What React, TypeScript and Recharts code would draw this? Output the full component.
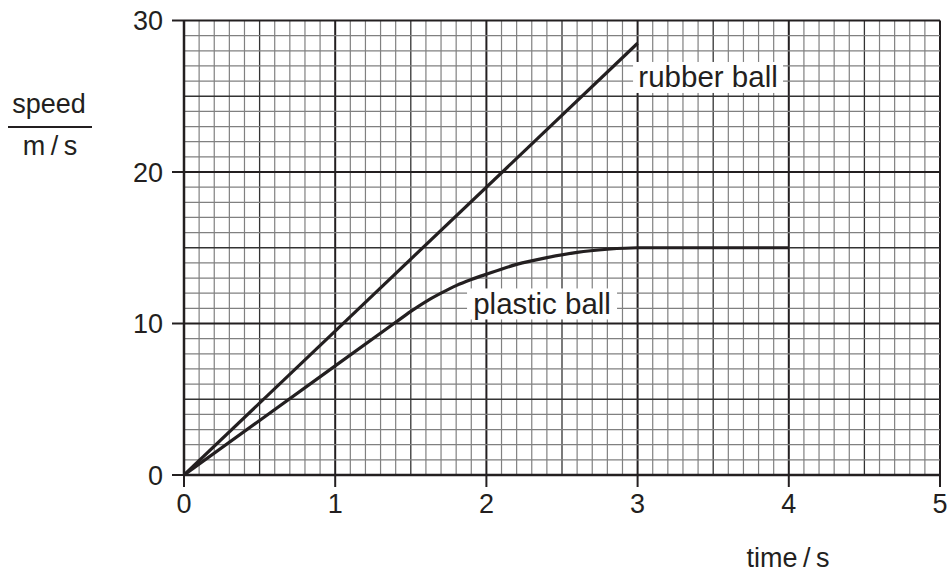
import React from "react";
import {
  ComposedChart,
  Line,
  XAxis,
  YAxis,
  ReferenceLine,
  ReferenceDot,
} from "recharts";

const timeTicks = [0, 1, 2, 3, 4, 5];
const speedTicks = [0, 10, 20, 30];

const rubberTime = [0, 3];
const rubberSpeed = [0, 28.5];

const plasticTime = [0, 0.5, 1, 1.4, 1.5, 1.6, 1.7, 1.8, 1.9, 2.0, 2.2, 2.4, 2.6, 2.8, 3, 4];
const plasticSpeed = [0, 3.6, 7.2, 10.08, 10.8, 11.45, 12.0, 12.5, 12.9, 13.25, 13.9, 14.35, 14.7, 14.9, 15, 15];

const labelText = ["rubber ball", "plastic ball"];
const labelTime = [3.466, 2.368];
const labelSpeed = [26.24, 11.29];

const rubberData = rubberTime.map((t, i) => ({ t, v: rubberSpeed[i] }));
const plasticData = plasticTime.map((t, i) => ({ t, v: plasticSpeed[i] }));

const FONT = "'Liberation Sans', Arial, Helvetica, sans-serif";
const INK = "#231f20";

const range = (start: number, end: number, step: number) => {
  const out: number[] = [];
  const n = Math.round((end - start) / step);
  for (let i = 0; i <= n; i++) out.push(+(start + i * step).toFixed(4));
  return out;
};

const gridX = range(0, 5, 0.1);
const gridY = range(0, 30, 1);

const gridStyle = (v: number, majorStep: number, halfStep: number) => {
  const isMajor = Math.abs(v / majorStep - Math.round(v / majorStep)) < 1e-6;
  if (isMajor) return { stroke: INK, strokeWidth: 2 };
  const isHalf = Math.abs(v / halfStep - Math.round(v / halfStep)) < 1e-6;
  if (isHalf) return { stroke: "#333", strokeWidth: 1.3 };
  return { stroke: "#808080", strokeWidth: 1.2 };
};

const LabelBox = (props: any) => {
  const { cx, cy, text } = props;
  const w = 150;
  const h = 31;
  return (
    <g>
      <rect x={cx - w / 2} y={cy - h / 2} width={w} height={h} fill="#fff" />
      <text
        x={cx}
        y={cy}
        dy={10}
        textAnchor="middle"
        fontSize={29.5}
        fontFamily={FONT}
        fill={INK}
      >
        {text}
      </text>
    </g>
  );
};

const TimeTick = (props: any) => {
  const { x, y, payload } = props;
  return (
    <text
      x={x}
      y={y}
      dy={19}
      textAnchor="middle"
      fontSize={27}
      fontFamily={FONT}
      fill={INK}
    >
      {payload.value}
    </text>
  );
};

export default function App() {
  return (
    <div
      style={{
        position: "relative",
        width: 949,
        height: 575,
        background: "#fff",
        overflow: "hidden",
      }}
    >
      <style>{"html,body{margin:0;padding:0;overflow:hidden;}"}</style>
      <ComposedChart
        width={949}
        height={575}
        margin={{ top: 20.5, right: 9, left: 124, bottom: 60 }}
      >
        <XAxis
          type="number"
          dataKey="t"
          domain={[0, 5]}
          ticks={timeTicks}
          interval={0}
          allowDataOverflow
          height={40}
          tickSize={12}
          tickMargin={7}
          stroke={INK}
          axisLine={{ stroke: INK, strokeWidth: 2.5 }}
          tickLine={{ stroke: INK, strokeWidth: 2 }}
          tick={<TimeTick />}
        />
        <YAxis
          type="number"
          domain={[0, 30]}
          ticks={speedTicks}
          allowDataOverflow
          width={60}
          tickSize={12}
          tickMargin={9}
          stroke={INK}
          axisLine={{ stroke: INK, strokeWidth: 2.5 }}
          tickLine={{ stroke: INK, strokeWidth: 2 }}
          tick={{ fontSize: 27, fontFamily: FONT, fill: INK }}
        />
        {gridX.map((v) => (
          <ReferenceLine key={"x" + v} x={v} {...gridStyle(v, 1, 0.5)} />
        ))}
        {gridY.map((v) => (
          <ReferenceLine key={"y" + v} y={v} {...gridStyle(v, 10, 5)} />
        ))}
        <Line
          data={rubberData}
          dataKey="v"
          type="linear"
          stroke={INK}
          strokeWidth={3.2}
          dot={false}
          activeDot={false}
          isAnimationActive={false}
        />
        <Line
          data={plasticData}
          dataKey="v"
          type="monotone"
          stroke={INK}
          strokeWidth={3.2}
          dot={false}
          activeDot={false}
          isAnimationActive={false}
        />
        {labelText.map((txt, i) => (
          <ReferenceDot
            key={txt}
            x={labelTime[i]}
            y={labelSpeed[i]}
            r={0}
            shape={(p: any) => <LabelBox {...p} text={txt} />}
          />
        ))}
      </ComposedChart>
      <svg
        width={949}
        height={575}
        style={{ position: "absolute", left: 0, top: 0, pointerEvents: "none" }}
      >
        <text x={49} y={113} textAnchor="middle" fontSize={27} fontFamily={FONT} fill={INK}>
          speed
        </text>
        <line x1={8} y1={127} x2={92} y2={127} stroke={INK} strokeWidth={2} />
        <text x={50} y={155} textAnchor="middle" fontSize={27} fontFamily={FONT} fill={INK}>
          {"m\u2009/\u2009s"}
        </text>
        <text x={788} y={567} textAnchor="middle" fontSize={27} fontFamily={FONT} fill={INK}>
          {"time\u2009/\u2009s"}
        </text>
      </svg>
    </div>
  );
}
